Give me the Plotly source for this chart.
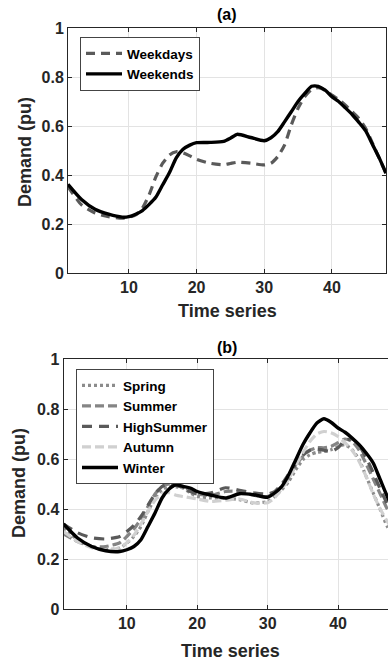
import plotly.graph_objects as go

# ---------------- data ----------------
x_top = [1, 3, 5, 7, 9, 10, 11, 12, 13, 14, 15, 16, 17, 18, 19, 20, 22, 24, 25, 26, 28, 30,
         31, 32, 33, 34, 35, 36, 37, 38, 39, 40, 41, 42, 43, 44, 45, 46, 47, 48]
weekends = [0.362, 0.30, 0.26, 0.24, 0.228, 0.23, 0.24, 0.255, 0.28, 0.31, 0.36, 0.41, 0.47,
            0.505, 0.522, 0.532, 0.533, 0.537, 0.55, 0.566, 0.553, 0.54, 0.552, 0.577, 0.617,
            0.658, 0.70, 0.733, 0.762, 0.762, 0.746, 0.72, 0.70, 0.674, 0.647, 0.615, 0.58,
            0.525, 0.47, 0.407]
weekdays = [0.353, 0.278, 0.245, 0.23, 0.224, 0.228, 0.237, 0.265, 0.32, 0.393, 0.448, 0.482,
            0.495, 0.49, 0.478, 0.464, 0.448, 0.442, 0.447, 0.452, 0.448, 0.441, 0.448, 0.475,
            0.522, 0.604, 0.672, 0.72, 0.749, 0.757, 0.746, 0.726, 0.708, 0.685, 0.658, 0.631,
            0.59, 0.53, 0.468, 0.407]

x_bot = [1, 3, 5, 7, 9, 10, 11, 12, 13, 14, 15, 16, 17, 18, 19, 20, 22, 24, 26, 28, 30,
         31, 32, 33, 34, 35, 36, 37, 38, 39, 40, 41, 42, 43, 44, 45, 46, 47, 48]
spring = [0.324, 0.277, 0.25, 0.237, 0.244, 0.264, 0.29, 0.33, 0.39, 0.444, 0.477, 0.49, 0.488,
          0.484, 0.464, 0.45, 0.444, 0.444, 0.437, 0.424, 0.43, 0.45, 0.477, 0.51, 0.557, 0.597,
          0.617, 0.627, 0.63, 0.637, 0.65, 0.657, 0.637, 0.597, 0.53, 0.464, 0.397, 0.33, 0.29]
summer = [0.30, 0.27, 0.25, 0.25, 0.265, 0.29, 0.32, 0.36, 0.41, 0.46, 0.49, 0.50, 0.495,
          0.485, 0.475, 0.46, 0.455, 0.47, 0.47, 0.455, 0.45, 0.465, 0.49, 0.53, 0.575, 0.61,
          0.635, 0.645, 0.645, 0.65, 0.665, 0.68, 0.67, 0.635, 0.58, 0.52, 0.46, 0.40, 0.36]
highsummer = [0.34, 0.305, 0.285, 0.28, 0.29, 0.31, 0.335, 0.37, 0.415, 0.46, 0.49, 0.50, 0.495,
              0.485, 0.47, 0.46, 0.465, 0.485, 0.475, 0.465, 0.46, 0.47, 0.50, 0.54, 0.58, 0.615,
              0.635, 0.64, 0.635, 0.63, 0.645, 0.675, 0.68, 0.655, 0.605, 0.545, 0.48, 0.42, 0.38]
autumn = [0.31, 0.27, 0.245, 0.235, 0.245, 0.265, 0.295, 0.34, 0.39, 0.435, 0.46, 0.465, 0.455,
          0.45, 0.445, 0.44, 0.43, 0.435, 0.44, 0.425, 0.425, 0.445, 0.48, 0.52, 0.575, 0.625,
          0.67, 0.70, 0.71, 0.705, 0.69, 0.665, 0.635, 0.59, 0.53, 0.46, 0.40, 0.35, 0.31]
winter = [0.34, 0.284, 0.25, 0.233, 0.23, 0.237, 0.25, 0.277, 0.33, 0.384, 0.444, 0.48, 0.497,
          0.49, 0.484, 0.47, 0.455, 0.444, 0.461, 0.457, 0.447, 0.464, 0.49, 0.537, 0.597, 0.657,
          0.704, 0.744, 0.761, 0.747, 0.724, 0.707, 0.684, 0.657, 0.624, 0.584, 0.517, 0.45, 0.39]

x_ticks = [10, 20, 30, 40]
y_ticks = [0, 0.2, 0.4, 0.6, 0.8, 1]
y_tick_text = ["0", "0.2", "0.4", "0.6", "0.8", "1"]

W, H = 388, 664
FONT = "Liberation Sans"
TXT = "#262626"

def px_x(p):
    return p / W

def px_y(p):
    return (H - p) / H

fig = go.Figure()

# top panel
fig.add_trace(go.Scatter(x=x_top, y=weekdays, name="Weekdays", mode="lines",
                         line=dict(color="#5a5a5a", width=3.2, dash="9px,6px", shape="spline", smoothing=0.6),
                         xaxis="x", yaxis="y", legend="legend"))
fig.add_trace(go.Scatter(x=x_top, y=weekends, name="Weekends", mode="lines",
                         line=dict(color="black", width=3.4, shape="spline", smoothing=0.6),
                         xaxis="x", yaxis="y", legend="legend"))

# bottom panel
series = [("Spring", spring, "#8c8c8c", "3px,3px"),
          ("Summer", summer, "#858585", "9px,4px"),
          ("HighSummer", highsummer, "#5a5a5a", "10px,7px"),
          ("Autumn", autumn, "#d0d0d0", "9px,4px"),
          ("Winter", winter, "black", "solid")]
for name, vals, col, dash in series:
    fig.add_trace(go.Scatter(x=x_bot, y=vals, name=name, mode="lines",
                             line=dict(color=col, width=3.4 if name == "Winter" else 3.2,
                                       dash=dash, shape="spline", smoothing=0.6),
                             xaxis="x2", yaxis="y2", legend="legend2"))

tickfont = dict(family=FONT, size=16, color=TXT, weight="bold")
common_x = dict(tickvals=x_ticks, ticks="inside", ticklen=4, tickcolor=TXT,
                showline=True, linecolor=TXT, linewidth=1,
                showgrid=True, gridcolor="#e3e3e3", gridwidth=1, zeroline=False,
                tickfont=tickfont, automargin=False)
common_y = dict(tickvals=y_ticks, ticktext=y_tick_text, range=[0, 1], ticks="inside", ticklen=4,
                tickcolor=TXT, showline=True, linecolor=TXT, linewidth=1,
                showgrid=True, gridcolor="#e3e3e3", gridwidth=1, zeroline=False,
                tickfont=tickfont, automargin=False)

legfont = dict(family=FONT, size=13.5, color="black", weight="bold")

fig.update_layout(
    width=W, height=H,
    margin=dict(l=0, r=0, t=0, b=0),
    paper_bgcolor="white", plot_bgcolor="white",
    xaxis=dict(domain=[px_x(68), px_x(386)], range=[1, 48], anchor="y", mirror="ticks", **common_x),
    yaxis=dict(domain=[px_y(273), px_y(28)], anchor="x", mirror="ticks", **common_y),
    xaxis2=dict(domain=[px_x(63.5), 1.0], range=[1, 47.1], anchor="y2", mirror="ticks", **common_x),
    yaxis2=dict(domain=[px_y(609), px_y(359)], anchor="x2", **common_y),
    legend=dict(x=px_x(80), y=px_y(37), xanchor="left", yanchor="top",
                bgcolor="white", bordercolor="#444444", borderwidth=1, font=legfont,
                tracegroupgap=0, itemwidth=36),
    legend2=dict(x=px_x(76), y=px_y(369), xanchor="left", yanchor="top",
                 bgcolor="white", bordercolor="#444444", borderwidth=1, font=legfont,
                 tracegroupgap=0, itemwidth=36),
    showlegend=True,
)

ann_font_title = dict(family=FONT, size=16, color="black", weight="bold")
ann_font_axis = dict(family=FONT, size=18, color=TXT, weight="bold")
annotations = [
    dict(text="(a)", x=px_x(227), y=px_y(15), xref="paper", yref="paper", showarrow=False,
         font=ann_font_title, xanchor="center", yanchor="middle"),
    dict(text="(b)", x=px_x(227), y=px_y(347), xref="paper", yref="paper", showarrow=False,
         font=ann_font_title, xanchor="center", yanchor="middle"),
    dict(text="Time series", x=px_x(227), y=px_y(311), xref="paper", yref="paper", showarrow=False,
         font=ann_font_axis, xanchor="center", yanchor="middle"),
    dict(text="Time series", x=px_x(230), y=px_y(651), xref="paper", yref="paper", showarrow=False,
         font=ann_font_axis, xanchor="center", yanchor="middle"),
    dict(text="Demand (pu)", x=px_x(25), y=px_y(152), xref="paper", yref="paper", showarrow=False,
         font=ann_font_axis, xanchor="center", yanchor="middle", textangle=-90),
    dict(text="Demand (pu)", x=px_x(19), y=px_y(483), xref="paper", yref="paper", showarrow=False,
         font=ann_font_axis, xanchor="center", yanchor="middle", textangle=-90),
]
fig.update_layout(annotations=annotations)

fig.write_html("out.html")
